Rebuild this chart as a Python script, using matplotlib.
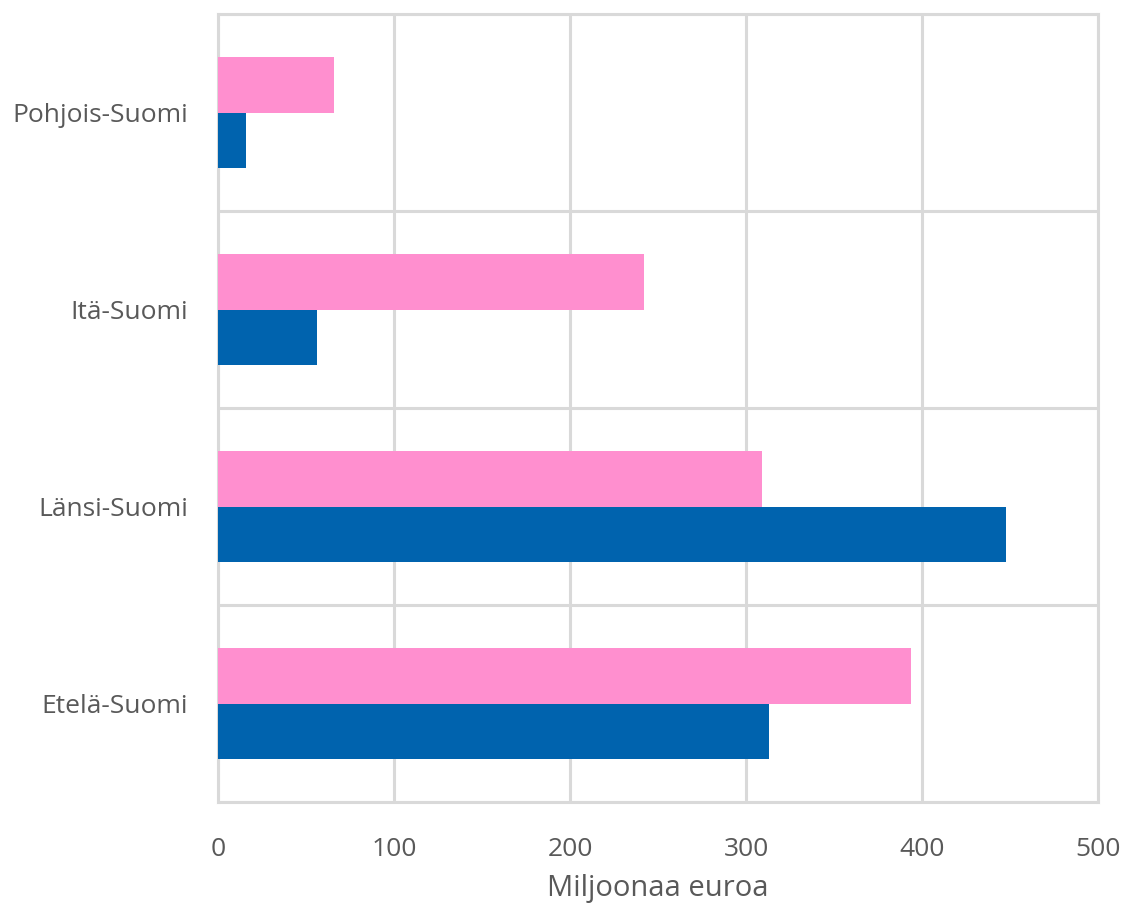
import numpy as np
import matplotlib.pyplot as plt

# Alueet ja arvot (miljoonaa euroa), luettu kuvasta
regions = ['Etelä-Suomi', 'Länsi-Suomi', 'Itä-Suomi', 'Pohjois-Suomi']
pink_vals = [394, 309, 242, 66]
blue_vals = [313, 448, 56, 16]
xticks = [0, 100, 200, 300, 400, 500]

plt.rcParams['font.family'] = ['Open Sans', 'DejaVu Sans']

fig = plt.figure(figsize=(11.25, 9.05), dpi=100)
ax = fig.add_axes([0.1938, 0.1138, 0.7822, 0.8707])

y = np.arange(len(regions))
h = 0.284
ax.barh(y + h / 2, pink_vals, height=h, color='#ff8fcf', zorder=3)
ax.barh(y - h / 2, blue_vals, height=h, color='#0063ae', zorder=3)

ax.set_xlim(0, 500)
ax.set_ylim(-0.5, len(regions) - 0.5)
ax.set_xticks(xticks)
ax.set_yticks(y)
ax.set_yticklabels(regions)

# ruudukko: pystyviivat arvoille, vaakaviivat luokkien väliin
ax.set_yticks(np.arange(len(regions) + 1) - 0.5, minor=True)
ax.grid(axis='x', which='major', color='#d9d9d9', linewidth=2.2, zorder=0)
ax.grid(axis='y', which='minor', color='#d9d9d9', linewidth=2.2, zorder=0)
ax.tick_params(which='both', length=0, colors='#595959', labelsize=19)
ax.tick_params(axis='x', pad=25)
ax.tick_params(axis='y', pad=21.5)

for s in ax.spines.values():
    s.set_color('#d9d9d9')
    s.set_linewidth(2.2)

ax.set_xlabel('Miljoonaa euroa', fontsize=21, color='#595959', labelpad=9)

fig.savefig('out.png', dpi=100)
